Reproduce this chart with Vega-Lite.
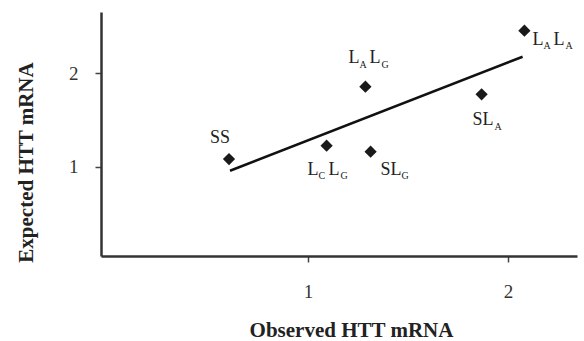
{
  "$schema": "https://vega.github.io/schema/vega-lite/v6.json",
  "width": 476,
  "height": 244,
  "autosize": "none",
  "padding": {"left": 101, "top": 12, "right": 7, "bottom": 85},
  "background": "white",
  "config": {
    "view": {"stroke": null},
    "axis": {
      "grid": false,
      "domainColor": "#333",
      "domainWidth": 2.5,
      "tickColor": "#444",
      "tickWidth": 1.5,
      "tickSize": 6,
      "labelFont": "Liberation Serif",
      "labelFontSize": 19,
      "labelColor": "#333",
      "titleFont": "Liberation Serif",
      "titleFontSize": 21,
      "titleFontWeight": "bold",
      "titleColor": "#222"
    },
    "text": {"font": "Liberation Serif", "color": "#222"}
  },
  "datasets": {
    "pts": [
      {"genotype": "SS", "observed": 0.605, "expected": 1.085, "m1": "SS", "s1": "", "m2": "", "s2": ""},
      {"genotype": "LCLG", "observed": 1.093, "expected": 1.227, "m1": "L", "s1": "C", "m2": "L", "s2": "G"},
      {"genotype": "SLG", "observed": 1.313, "expected": 1.163, "m1": "SL", "s1": "G", "m2": "", "s2": ""},
      {"genotype": "LALG", "observed": 1.287, "expected": 1.854, "m1": "L", "s1": "A", "m2": "L", "s2": "G"},
      {"genotype": "SLA", "observed": 1.868, "expected": 1.773, "m1": "SL", "s1": "A", "m2": "", "s2": ""},
      {"genotype": "LALA", "observed": 2.082, "expected": 2.45, "m1": "L", "s1": "A", "m2": "L", "s2": "A"}
    ],
    "fit": [
      {"observed": 0.61, "expected": 0.96},
      {"observed": 2.073, "expected": 2.173}
    ]
  },
  "encoding": {
    "x": {
      "field": "observed", "type": "quantitative",
      "scale": {"domain": [-0.035, 2.345], "nice": false, "zero": false},
      "axis": {"values": [1, 2], "labelPadding": 20, "title": "Observed HTT mRNA", "titleX": 250, "titleY": 74, "titleBaseline": "middle"}
    },
    "y": {
      "field": "expected", "type": "quantitative",
      "scale": {"domain": [0.053, 2.649], "nice": false, "zero": false},
      "axis": {"values": [1, 2], "labelPadding": 17, "title": "Expected HTT mRNA", "titleX": -75, "titleY": 150, "titleBaseline": "middle"}
    }
  },
  "layer": [
    {
      "data": {"name": "fit"},
      "mark": {"type": "line", "color": "#111", "strokeWidth": 2.5}
    },
    {
      "data": {"name": "pts"},
      "layer": [
        {"mark": {"type": "point", "shape": "diamond", "filled": true, "size": 150, "color": "#1a1a1a", "opacity": 1}},
        {"transform": [{"filter": "datum.genotype === 'SS'"}], "mark": {"type": "text", "align": "left", "baseline": "alphabetic", "fontSize": 18, "dx": -19, "dy": -16}, "encoding": {"text": {"field": "m1"}}},

        {"transform": [{"filter": "datum.genotype === 'LALG'"}], "mark": {"type": "text", "align": "left", "baseline": "alphabetic", "fontSize": 18, "dx": -17, "dy": -24}, "encoding": {"text": {"field": "m1"}}},
        {"transform": [{"filter": "datum.genotype === 'LALG'"}], "mark": {"type": "text", "align": "left", "baseline": "alphabetic", "fontSize": 10, "dx": -6, "dy": -19}, "encoding": {"text": {"field": "s1"}}},
        {"transform": [{"filter": "datum.genotype === 'LALG'"}], "mark": {"type": "text", "align": "left", "baseline": "alphabetic", "fontSize": 18, "dx": 4, "dy": -24}, "encoding": {"text": {"field": "m2"}}},
        {"transform": [{"filter": "datum.genotype === 'LALG'"}], "mark": {"type": "text", "align": "left", "baseline": "alphabetic", "fontSize": 10, "dx": 16, "dy": -19}, "encoding": {"text": {"field": "s2"}}},

        {"transform": [{"filter": "datum.genotype === 'LCLG'"}], "mark": {"type": "text", "align": "left", "baseline": "alphabetic", "fontSize": 18, "dx": -19, "dy": 29}, "encoding": {"text": {"field": "m1"}}},
        {"transform": [{"filter": "datum.genotype === 'LCLG'"}], "mark": {"type": "text", "align": "left", "baseline": "alphabetic", "fontSize": 10, "dx": -8, "dy": 33}, "encoding": {"text": {"field": "s1"}}},
        {"transform": [{"filter": "datum.genotype === 'LCLG'"}], "mark": {"type": "text", "align": "left", "baseline": "alphabetic", "fontSize": 18, "dx": 2, "dy": 29}, "encoding": {"text": {"field": "m2"}}},
        {"transform": [{"filter": "datum.genotype === 'LCLG'"}], "mark": {"type": "text", "align": "left", "baseline": "alphabetic", "fontSize": 10, "dx": 14, "dy": 33}, "encoding": {"text": {"field": "s2"}}},

        {"transform": [{"filter": "datum.genotype === 'SLG'"}], "mark": {"type": "text", "align": "left", "baseline": "alphabetic", "fontSize": 18, "dx": 10, "dy": 23}, "encoding": {"text": {"field": "m1"}}},
        {"transform": [{"filter": "datum.genotype === 'SLG'"}], "mark": {"type": "text", "align": "left", "baseline": "alphabetic", "fontSize": 10, "dx": 31, "dy": 27}, "encoding": {"text": {"field": "s1"}}},

        {"transform": [{"filter": "datum.genotype === 'SLA'"}], "mark": {"type": "text", "align": "left", "baseline": "alphabetic", "fontSize": 18, "dx": -9, "dy": 31}, "encoding": {"text": {"field": "m1"}}},
        {"transform": [{"filter": "datum.genotype === 'SLA'"}], "mark": {"type": "text", "align": "left", "baseline": "alphabetic", "fontSize": 10, "dx": 13, "dy": 36}, "encoding": {"text": {"field": "s1"}}},

        {"transform": [{"filter": "datum.genotype === 'LALA'"}], "mark": {"type": "text", "align": "left", "baseline": "alphabetic", "fontSize": 18, "dx": 8, "dy": 14}, "encoding": {"text": {"field": "m1"}}},
        {"transform": [{"filter": "datum.genotype === 'LALA'"}], "mark": {"type": "text", "align": "left", "baseline": "alphabetic", "fontSize": 10, "dx": 19, "dy": 18}, "encoding": {"text": {"field": "s1"}}},
        {"transform": [{"filter": "datum.genotype === 'LALA'"}], "mark": {"type": "text", "align": "left", "baseline": "alphabetic", "fontSize": 18, "dx": 29, "dy": 14}, "encoding": {"text": {"field": "m2"}}},
        {"transform": [{"filter": "datum.genotype === 'LALA'"}], "mark": {"type": "text", "align": "left", "baseline": "alphabetic", "fontSize": 10, "dx": 41, "dy": 18}, "encoding": {"text": {"field": "s2"}}}
      ]
    }
  ]
}
